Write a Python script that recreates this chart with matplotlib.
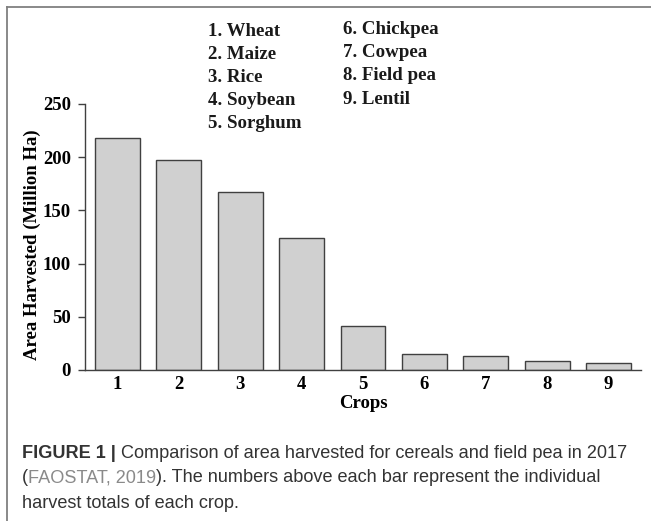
import matplotlib
matplotlib.use("Agg")
import matplotlib.pyplot as plt
from matplotlib.lines import Line2D

# crop area harvested in 2017 (million ha)
crop_ids = [1, 2, 3, 4, 5, 6, 7, 8, 9]
area_harvested = [218, 197, 167, 124, 41, 15, 13, 8, 6.5]
crop_names = ["Wheat", "Maize", "Rice", "Soybean", "Sorghum",
              "Chickpea", "Cowpea", "Field pea", "Lentil"]
y_ticks = [0, 50, 100, 150, 200, 250]

serif = "Liberation Serif"
sans = "Liberation Sans"

fig = plt.figure(figsize=(6.51, 5.21), dpi=100)
ax = fig.add_axes([85 / 651, 1 - 370 / 521, 556 / 651, 266 / 521])

ax.bar(crop_ids, area_harvested, width=0.73, color="#d0d0d0",
       edgecolor="#404040", linewidth=1.0)
ax.set_xlim(0.47, 9.53)
ax.set_ylim(0, 250)
ax.set_yticks(y_ticks)
ax.set_xticks(crop_ids)
ax.set_yticklabels([str(t) for t in y_ticks], fontfamily=serif,
                   fontweight="bold", fontsize=13.5)
ax.set_xticklabels([str(c) for c in crop_ids], fontfamily=serif,
                   fontweight="bold", fontsize=13.5)
ax.tick_params(axis="y", length=5, width=1, color="#404040", pad=5)
ax.tick_params(axis="x", length=0, pad=4)
for s in ["top", "right"]:
    ax.spines[s].set_visible(False)
for s in ["left", "bottom"]:
    ax.spines[s].set_color("#404040")
    ax.spines[s].set_linewidth(1.0)

ax.set_ylabel("Area Harvested (Million Ha)", fontfamily=serif,
              fontweight="bold", fontsize=13.5)
ax.yaxis.set_label_coords(-44 / 556, 0.47)
ax.set_xlabel("Crops", fontfamily=serif, fontweight="bold", fontsize=13.5,
              labelpad=2)

# numbered crop key above the bars
for i, name in enumerate(crop_names):
    if i < 5:
        x, y = 208 / 651, 1 - (31 + 23.1 * i) / 521
    else:
        x, y = 343 / 651, 1 - (29 + 23.5 * (i - 5)) / 521
    fig.text(x, y, f"{i + 1}. {name}", fontfamily=serif, fontweight="bold",
             fontsize=13.6, va="center", ha="left", color="#1a1a1a")

# frame lines on the left and top
fig.add_artist(Line2D([7 / 651, 7 / 651], [0, 1 - 7 / 521],
                      transform=fig.transFigure, color="#808080", lw=1.3))
fig.add_artist(Line2D([7 / 651, 1], [1 - 7 / 521, 1 - 7 / 521],
                      transform=fig.transFigure, color="#808080", lw=1.3))

# caption, drawn piece by piece so colours and weights can change
fig.canvas.draw()
renderer = fig.canvas.get_renderer()


def caption_line(pieces, x0, y):
    x = x0
    for txt, color, weight in pieces:
        t = fig.text(x, y, txt, fontfamily=sans, fontsize=13.1, color=color,
                     fontweight=weight, va="center", ha="left")
        bb = t.get_window_extent(renderer)
        x = x + bb.width / fig.bbox.width


dark = "#333333"
light = "#8a8a8a"
x0 = 22 / 651
caption_line([("FIGURE 1 | ", dark, "bold"),
              ("Comparison of area harvested for cereals and field pea in 2017",
               dark, "normal")], x0, 1 - 453 / 521)
caption_line([("(", dark, "normal"), ("FAOSTAT, 2019", light, "normal"),
              ("). The numbers above each bar represent the individual",
               dark, "normal")], x0, 1 - 478 / 521)
caption_line([("harvest totals of each crop.", dark, "normal")], x0,
             1 - 503 / 521)

fig.savefig("out.png", dpi=100, facecolor="white")
